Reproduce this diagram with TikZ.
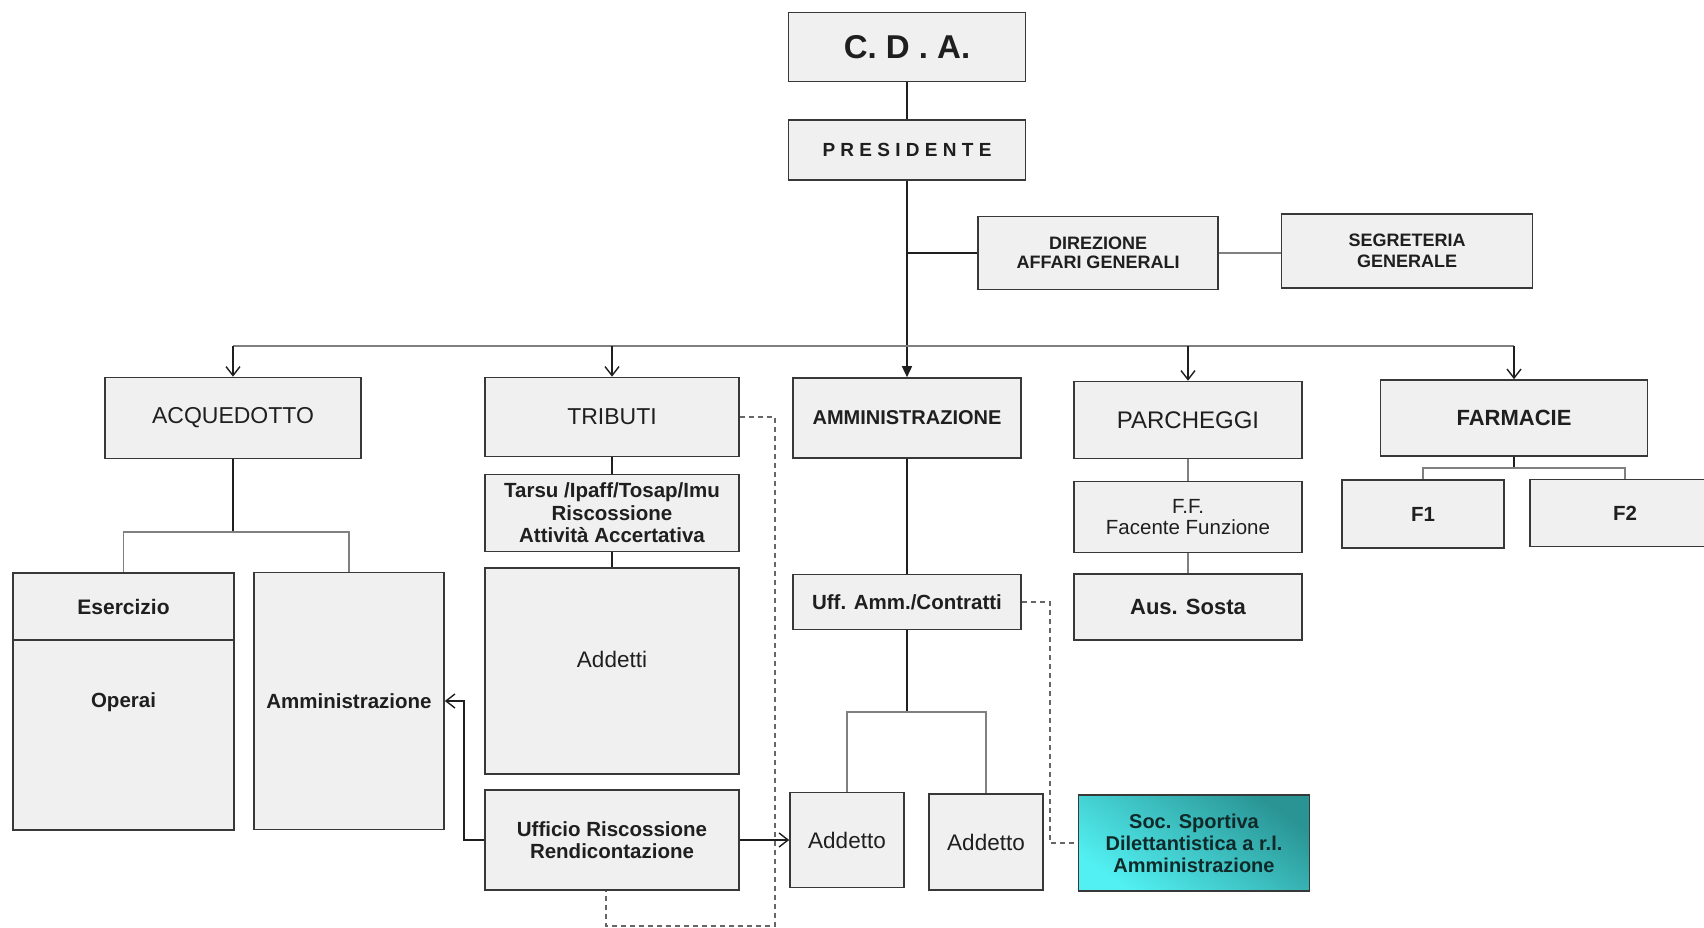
\documentclass[tikz,border=0pt]{standalone}
\usepackage{fontspec}
\setmainfont{Liberation Sans}
\usetikzlibrary{arrows.meta}
\definecolor{boxgray}{HTML}{F0F0F0}
\definecolor{socdark}{HTML}{2A9494}
\definecolor{soclight}{HTML}{52F0F2}
\definecolor{soctext}{HTML}{102A2A}
\newcommand\fsz[2]{\fontsize{#1}{#2}\selectfont}
\tikzset{
  box/.style={draw=black!78, line width=1.6pt, fill=boxgray, inner sep=2pt, align=center, text=black!88},
  tline/.style={draw=black!88, line width=1.5pt},
  gline/.style={draw=black!50, line width=1.8pt},
  dline/.style={draw=black!60, line width=1.5pt, dash pattern=on 5pt off 4pt},
  opn/.style={-{Straight Barb[length=9pt,width=14pt,line width=1.4pt]}},
  fil/.style={-{Triangle[length=11pt,width=10pt]}},
  sb/.style={font=\bfseries\fsz{20.5}{22.5}},
  sr/.style={font=\fsz{22.5}{24}},
}
\begin{document}
\begin{tikzpicture}[x=1pt,y=-1pt]
\useasboundingbox (0,0) rectangle (1704,928);
% top
\node[box, minimum width=237pt, minimum height=69pt, font=\bfseries\fsz{33}{36}] (cda) at (907,47) {C. D . A.};
\node[box, minimum width=237pt, minimum height=60pt, font=\bfseries\fsz{19}{21}] (pres) at (907,150) {P R E S I D E N T E};
\node[box, minimum width=240pt, minimum height=73pt, font=\bfseries\fsz{18}{19}] (dir) at (1098,253) {DIREZIONE\\AFFARI GENERALI};
\node[box, minimum width=251pt, minimum height=74pt, font=\bfseries\fsz{18}{21}] (seg) at (1407,251) {SEGRETERIA\\GENERALE};
% second row
\node[box, minimum width=256pt, minimum height=81pt, font=\fsz{23}{25}] (acq) at (233,418) {ACQUEDOTTO};
\node[box, minimum width=254pt, minimum height=79pt, font=\fsz{23}{25}] (trib) at (612,417) {TRIBUTI};
\node[box, minimum width=228pt, minimum height=80pt, font=\bfseries\fsz{20}{22}] (amm) at (907,418) {AMMINISTRAZIONE};
\node[box, minimum width=228pt, minimum height=77pt, font=\fsz{24}{26}] (parc) at (1188,420) {PARCHEGGI};
\node[box, minimum width=267pt, minimum height=76pt, font=\bfseries\fsz{22}{24}] (farm) at (1514,418) {FARMACIE};
% tributi column
\node[box, sb, minimum width=254pt, minimum height=77pt] (tarsu) at (612,513) {Tarsu /Ipaff/Tosap/Imu\\Riscossione\\Attività Accertativa};
\node[box, sr, minimum width=254pt, minimum height=206pt, text height=16pt, text depth=24pt] (addetti) at (612,671) {Addetti};
\node[box, sb, minimum width=254pt, minimum height=100pt] (uffrisc) at (612,840) {Ufficio Riscossione\\Rendicontazione};
% acquedotto column
\node[box, minimum width=221pt, minimum height=67pt, font=\bfseries\fsz{21}{23}] (eser) at (123.5,606.5) {Esercizio};
\node[box, sb, minimum width=221pt, minimum height=190pt, text height=15pt, text depth=71pt] (operai) at (123.5,735) {Operai};
\node[box, sb, minimum width=190pt, minimum height=257pt] (ammacq) at (349,701) {Amministrazione};
% amministrazione column
\node[box, sb, minimum width=228pt, minimum height=55pt] (uffamm) at (907,602) {Uff. Amm./Contratti};
\node[box, sr, minimum width=114pt, minimum height=95pt] (add1) at (847,840) {Addetto};
\node[box, sr, minimum width=114pt, minimum height=96pt] (add2) at (986,842) {Addetto};
\node[box, minimum width=231pt, minimum height=96pt, font=\bfseries\fsz{20}{22}, text=soctext,
      top color=socdark, bottom color=soclight, shading angle=-35] (soc) at (1194,843) {Soc. Sportiva\\Dilettantistica a r.l.\\Amministrazione};
% parcheggi column
\node[box, minimum width=228pt, minimum height=71pt, font=\fsz{20.5}{21.5}] (ff) at (1188,517) {F.F.\\Facente Funzione};
\node[box, minimum width=228pt, minimum height=66pt, font=\bfseries\fsz{22}{24}] (aus) at (1188,607) {Aus. Sosta};
% farmacie
\node[box, sb, minimum width=162pt, minimum height=68pt] (f1) at (1423,514) {F1};
\node[box, sb, minimum width=190pt, minimum height=67pt] (f2) at (1625,513) {F2};

% coordinates
\coordinate (bus) at (0,346);
\coordinate (acqj) at (233,532);
\coordinate (ammj) at (907,712);
\coordinate (farmj) at (1514,468);
\coordinate (bot) at (0,926);

% connectors top
\draw[tline] (cda) -- (pres);
\draw[tline, fil] (pres.south) -- (amm.north);
\draw[tline] (pres.south |- dir.west) -- (dir.west);
\draw[gline] (dir.east) -- (dir.east -| seg.west);
\draw[gline] (acq.north |- bus) -- (farm.north |- bus);
\draw[tline, opn] (acq.north |- bus) -- (acq.north);
\draw[tline, opn] (trib.north |- bus) -- (trib.north);
\draw[tline, opn] (parc.north |- bus) -- (parc.north);
\draw[tline, opn] (farm.north |- bus) -- (farm.north);
% acquedotto tree
\draw[tline] (acq.south) -- (acqj);
\draw[gline] (eser.north) |- (acqj) -| (ammacq.north);
% tributi
\draw[tline] (trib.south) -- (tarsu.north);
\draw[tline] (tarsu.south) -- (addetti.north);
% amministrazione
\draw[tline] (amm.south) -- (uffamm.north);
\draw[tline] (uffamm.south) -- (ammj);
\draw[gline] (add1.north) |- (ammj) -| (add2.north);
% parcheggi
\draw[gline] (parc.south) -- (ff.north);
\draw[gline] (ff.south) -- (aus.north);
% farmacie
\draw[tline] (farm.south) -- (farmj);
\draw[gline] (f1.north) |- (farmj) -| (f2.north);
% arrows from ufficio riscossione
\draw[tline, opn] (uffrisc.west) -- ++(-20,0) |- (ammacq.east);
\draw[tline, opn] (uffrisc.east) -- (add1.west);
% dashed
\draw[dline] (trib.east) -- ++(35,0) coordinate (d1) -- (d1 |- bot) -| ([xshift=-6pt]uffrisc.south);
\draw[dline] (uffamm.east) -- ++(28,0) |- (soc.west);
\end{tikzpicture}
\end{document}
